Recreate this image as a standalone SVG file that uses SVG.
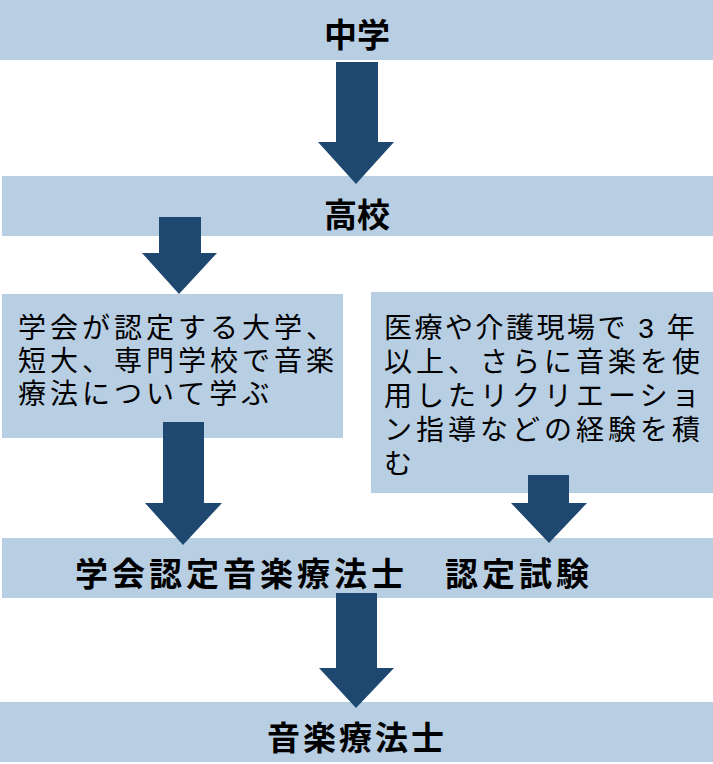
<svg xmlns="http://www.w3.org/2000/svg" width="713" height="764" viewBox="0 0 713 764">
<style>
.bar{fill:#B8CEE3;}
.arr{fill:#1F4870;}
.big{font-family:"Noto Sans CJK JP","Noto Sans CJK SC",sans-serif;font-size:33px;font-weight:bold;fill:#000;}
.body{font-family:"Liberation Sans","Noto Sans CJK JP","Noto Sans CJK SC",sans-serif;font-size:28px;letter-spacing:4px;fill:#000;}
</style>
<rect width="713" height="764" fill="#fff"/>
<g id="n1"><rect class="bar" x="0" y="0" width="713" height="60"/><text class="big" x="357" y="47" text-anchor="middle">中学</text></g>
<g id="n2"><rect class="bar" x="2" y="176" width="711" height="60"/><text class="big" x="357" y="227" text-anchor="middle">高校</text></g>
<g id="n3"><rect class="bar" x="2" y="294" width="341" height="144"/>
<text class="body" x="18" y="338"><tspan x="18">学会が認定する大学、</tspan><tspan x="18" dy="33">短大、専門学校で音楽</tspan><tspan x="18" dy="33">療法について学ぶ</tspan></text></g>
<g id="n4"><rect class="bar" x="371" y="292" width="342" height="201"/>
<text class="body" x="384" y="338" xml:space="preserve"><tspan x="384" style="letter-spacing:2.5px">医療や介護現場で 3 年</tspan><tspan x="384" dy="34">以上、さらに音楽を使</tspan><tspan x="384" dy="34">用したリクリエーショ</tspan><tspan x="384" dy="34">ン指導などの経験を積</tspan><tspan x="384" dy="34">む</tspan></text></g>
<g id="n5"><rect class="bar" x="2" y="538" width="711" height="60"/><text class="big" x="75" y="586" style="letter-spacing:4px">学会認定音楽療法士　認定試験</text></g>
<g id="n6"><rect class="bar" x="0" y="702" width="713" height="60"/><text class="big" x="357" y="750" text-anchor="middle" style="letter-spacing:3px">音楽療法士</text></g>
<g id="connectors">
<polygon class="arr" points="336,62 378,62 378,142 394,142 356,184 318,142 336,142"/>
<polygon class="arr" points="159,217 201,217 201,253 217,253 179,294 142,253 159,253"/>
<polygon class="arr" points="163,422 204,422 204,503 222,503 183,545 145,503 163,503"/>
<polygon class="arr" points="528,475 569,475 569,503 587,503 549,543 511,503 528,503"/>
<polygon class="arr" points="336,593 377,593 377,668 394,668 356,708 319,668 336,668"/>
</g>
</svg>
